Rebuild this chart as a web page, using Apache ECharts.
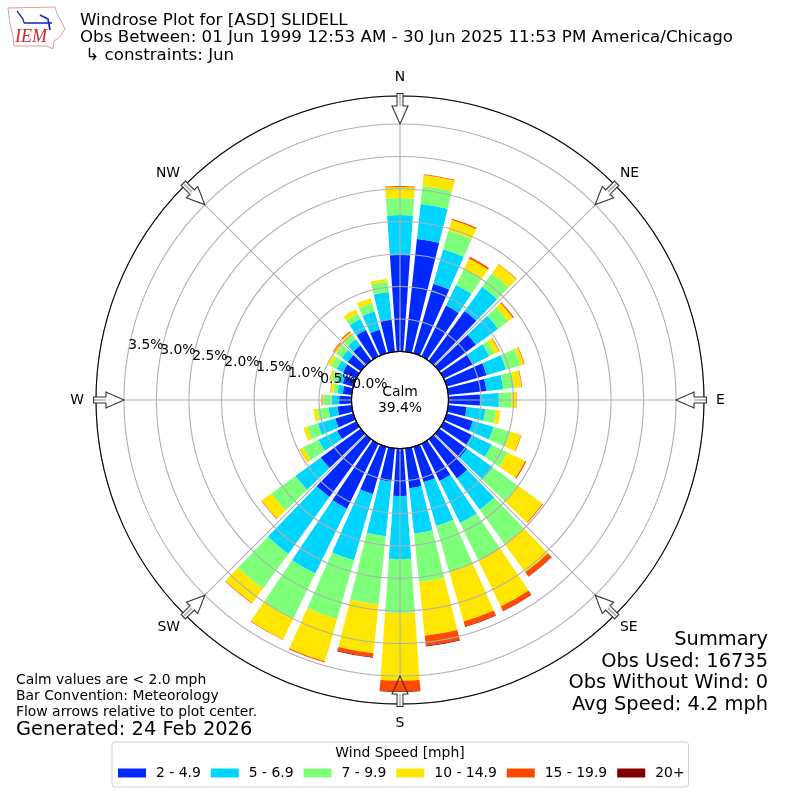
<!DOCTYPE html>
<html>
<head>
<meta charset="utf-8">
<style>html,body{margin:0;padding:0;background:#fff}#c{width:800px;height:800px}</style>
<script src="https://cdn.jsdelivr.net/npm/echarts@6/dist/echarts.min.js"></script>
</head>
<body>
<div id="c"></div>
<script>
// directions, clockwise from north (degrees)
const directions = ['0','10','20','30','40','50','60','70','80','90','100','110','120','130','140','150','160','170','180','190','200','210','220','230','240','250','260','270','280','290','300','310','320','330','340','350'];
// percent of observations per direction
const s2to49 = [1.485,1.746,1.115,.87,.946,.70,.50,.64,.59,.485,.285,.42,.485,.53,.746,.64,.57,.62,.73,.52,.76,1.115,1.10,.76,.33,.29,.22,.19,.14,.17,.23,.25,.29,.45,.38,.505];
const s5to69 = [.615,.54,.55,.354,.46,.42,.285,.31,.26,.29,.29,.33,.34,.49,.595,.72,.70,.70,.97,.84,1.06,1.11,1.08,.48,.32,.28,.14,.117,.08,.09,.106,.11,.12,.19,.29,.42];
const s7to99 = [.26,.277,.30,.27,.257,.19,.09,.23,.17,.195,.165,.27,.27,.47,.65,.65,.74,.75,.83,1.055,.94,.77,.66,.46,.26,.17,.175,.13,.066,.09,.10,.11,.10,.09,.133,.16];
const s10to149 = [.175,.17,.17,.18,.17,.09,.08,.06,.115,.077,.067,.17,.30,.475,.54,.78,.79,.83,1.04,.755,.68,.36,.28,.185,.06,.06,.06,.015,.045,.03,.055,.045,.03,.075,.08,.043];
const s15to199 = [.012,.012,.02,.03,.008,.02,.008,.008,.008,.005,0,.008,.02,.012,.08,.075,.08,.155,.165,.06,.015,.008,.008,.008,.005,0,0,.01,.005,.005,0,.015,.02,0,0,0];
const s20plus = [0,0,0,0,0,0,0,0,0,0,0,0,0,0,.005,.005,.005,.01,.01,.01,0,0,0,0,0,0,0,0,0,0,0,0,0,0,0,0];
const speedBins = ['2 - 4.9','5 - 6.9','7 - 9.9','10 - 14.9','15 - 19.9','20+'];
const binColors = ['#0029ff','#00d5ff','#7dff7a','#ffe600','#ff4a00','#800000'];
const compassLabels = {0:'N',45:'NE',90:'E',135:'SE',180:'S',225:'SW',270:'W',315:'NW'};
const compassStyles = {0:'n',90:'e',180:'s',270:'w'};
const titleLines = ['Windrose Plot for [ASD] SLIDELL','Obs Between: 01 Jun 1999 12:53 AM - 30 Jun 2025 11:53 PM America/Chicago',' \u21B3 constraints: Jun'];
const noteLines = ['Calm values are < 2.0 mph','Bar Convention: Meteorology','Flow arrows relative to plot center.'];
const generated = 'Generated: 24 Feb 2026';
const summaryLines = ['Summary','Obs Used: 16735','Obs Without Wind: 0','Avg Speed: 4.2 mph'];
const calmLines = ['Calm','39.4%'];
const legendTitle = 'Wind Speed [mph]';

const seriesValues = [s2to49,s5to69,s7to99,s10to149,s15to199,s20plus];
const FONT = '"DejaVu Sans", sans-serif';
const CX = 400, CY = 400, R0 = 48.5, R1 = 304, R35 = 276, RMAX = 3.93;

function txt(x,y,text,size,align,extra){
  return {type:'text',x:x,y:y,z:60,silent:true,style:Object.assign({text:text,fill:'#000',font:size+'px '+FONT,textAlign:align||'left',textVerticalAlign:'middle'},extra||{})};
}
function arrow(deg){
  return {type:'group',x:CX,y:CY,rotation:-deg*Math.PI/180,silent:true,z:50,children:[
    {type:'rect',z:50,shape:{x:-3,y:-306.5,width:6,height:12.5},style:{fill:'#fff'}},
    {type:'line',z:51,shape:{x1:0,y1:-294,x2:0,y2:-306.5},style:{stroke:'#b0b0b0',lineWidth:1.5}},
    {type:'polygon',z:52,shape:{points:[[0,-276],[8,-294],[3,-294],[3,-306.5],[-3,-306.5],[-3,-294],[-8,-294]]},style:{fill:'none',stroke:'#333',lineWidth:1.1}}
  ]};
}
const gfx = [];
Object.keys(compassLabels).forEach(d=>gfx.push(arrow(+d)));
gfx.push({type:'circle',silent:true,z:40,shape:{cx:CX,cy:CY,r:R0},style:{fill:'none',stroke:'#000',lineWidth:1.1}});
const titleY=[21,38,56];
titleLines.forEach((t,i)=>gfx.push(txt(80,titleY[i],t,16.68)));
const noteY=[680,696,712];
noteLines.forEach((t,i)=>gfx.push(txt(16,noteY[i],t,13.9)));
gfx.push(txt(16,730,generated,19.4));
const sumY=[640,662,683,705];
summaryLines.forEach((t,i)=>gfx.push(txt(768,sumY[i],t,19.4,'right')));
gfx.push(txt(CX,392,calmLines[0],13.9,'center'));
gfx.push(txt(CX,408,calmLines[1],13.9,'center'));
gfx.push(txt(400,753,legendTitle,13.9,'center'));
// logo
gfx.push({type:'polygon',silent:true,z:30,shape:{points:[[8,8],[55,7],[57,14],[61,21],[65,29],[60,37],[54,41],[53,49],[47,46],[14,46],[13,36],[10,24]]},style:{fill:'#fff',stroke:'#e89a9a',lineWidth:1}});
gfx.push({type:'polyline',silent:true,z:31,shape:{points:[[24,23],[52,23]]},style:{stroke:'#1f2fb0',lineWidth:1.6}});
gfx.push({type:'polyline',silent:true,z:31,shape:{points:[[17,11],[23,19],[24,23]]},style:{stroke:'#1f2fb0',lineWidth:1.3}});
gfx.push({type:'polyline',silent:true,z:31,shape:{points:[[40,15],[48,19],[50,30]]},style:{stroke:'#1f2fb0',lineWidth:1.8}});
gfx.push({type:'text',silent:true,z:32,x:15,y:28,style:{text:'IEM',fill:'#d9252b',font:'italic 18px "Liberation Serif", serif'}});

const series = speedBins.map((name,i)=>({
  name:name,type:'bar',coordinateSystem:'polar',polarIndex:0,stack:'wind',
  barWidth:'80%',data:seriesValues[i],
  itemStyle:{color:binColors[i]},silent:true,z:2
}));
const tickLabelStyle = {show:true,margin:0,rotate:0,hideOverlap:false,color:'#000',fontFamily:FONT,fontSize:13.9,
  align:'left',verticalAlign:'bottom',formatter:v=>v.toFixed(1)+'%'};

const option = {
  animation:false,
  backgroundColor:'#fff',
  polar:[
    {center:[CX,CY],radius:[R0,R1]},      // bars
    {center:[CX,CY],radius:[R0,R35]},     // spokes
    {center:[CX,CY],radius:[R0,R1]},      // outer circle, compass labels
    {center:[CX,CY],radius:[R0,R1]},      // rings and percent labels
    {center:[CX,CY],radius:[R0,R1]}       // the 0.0% label
  ],
  angleAxis:[
    {polarIndex:0,type:'category',data:directions,startAngle:95,show:false},
    {polarIndex:1,type:'value',min:0,max:360,interval:45,startAngle:90,z:10,
      axisLine:{show:false},axisTick:{show:false},axisLabel:{show:false},
      splitLine:{show:true,lineStyle:{color:'#b0b0b0',width:1.1}}},
    {polarIndex:2,type:'value',min:0,max:360,interval:45,startAngle:90,z:13,
      axisLine:{show:true,lineStyle:{color:'#000',width:1.1}},axisTick:{show:false},
      splitLine:{show:false},
      axisLabel:{show:true,margin:7,color:'#000',fontFamily:FONT,fontSize:13.9,
        formatter:v=>{const s=compassStyles[v]||'d';return '{'+s+'|'+(compassLabels[v]||'')+'}';},
        rich:{
          d:{fontFamily:FONT,fontSize:13.9,color:'#000'},
          n:{fontFamily:FONT,fontSize:13.9,color:'#000',padding:[0,0,5,0]},
          s:{fontFamily:FONT,fontSize:13.9,color:'#000',padding:[5,0,0,0]},
          e:{fontFamily:FONT,fontSize:13.9,color:'#000',padding:[0,0,0,5]},
          w:{fontFamily:FONT,fontSize:13.9,color:'#000',padding:[0,5,0,0]}
        }}},
    {polarIndex:3,type:'value',min:0,max:360,startAngle:170,show:false},
    {polarIndex:4,type:'value',min:0,max:360,startAngle:170,show:false}
  ],
  radiusAxis:[
    {polarIndex:0,type:'value',min:0,max:RMAX,show:false},
    {polarIndex:1,type:'value',min:0,max:3.5,show:false},
    {polarIndex:2,type:'value',min:0,max:RMAX,show:false},
    {polarIndex:3,type:'value',min:0,max:RMAX,interval:0.5,z:12,
      axisLine:{show:false},axisTick:{show:false},
      splitLine:{show:true,lineStyle:{color:'#b0b0b0',width:1.1}},
      axisLabel:Object.assign({},tickLabelStyle,{showMinLabel:false,showMaxLabel:false})},
    {polarIndex:4,type:'value',min:0,max:RMAX,interval:100,z:12,
      axisLine:{show:false},axisTick:{show:false},splitLine:{show:false},
      axisLabel:Object.assign({},tickLabelStyle,{showMinLabel:true,showMaxLabel:false})}
  ],
  legend:{
    left:112,top:742,padding:[24,4,7,6],
    backgroundColor:'#fff',borderColor:'#d0d0d0',borderWidth:1,borderRadius:3,
    icon:'rect',itemWidth:28,itemHeight:9,itemGap:10,
    textStyle:{fontFamily:FONT,fontSize:13.9,color:'#000',padding:[0,0,0,5]},
    data:speedBins,selectedMode:false,z:20
  },
  graphic:{elements:gfx},
  series:series
};
const chart = echarts.init(document.getElementById('c'),null,{renderer:'canvas'});
chart.setOption(option);
</script>
</body>
</html>
